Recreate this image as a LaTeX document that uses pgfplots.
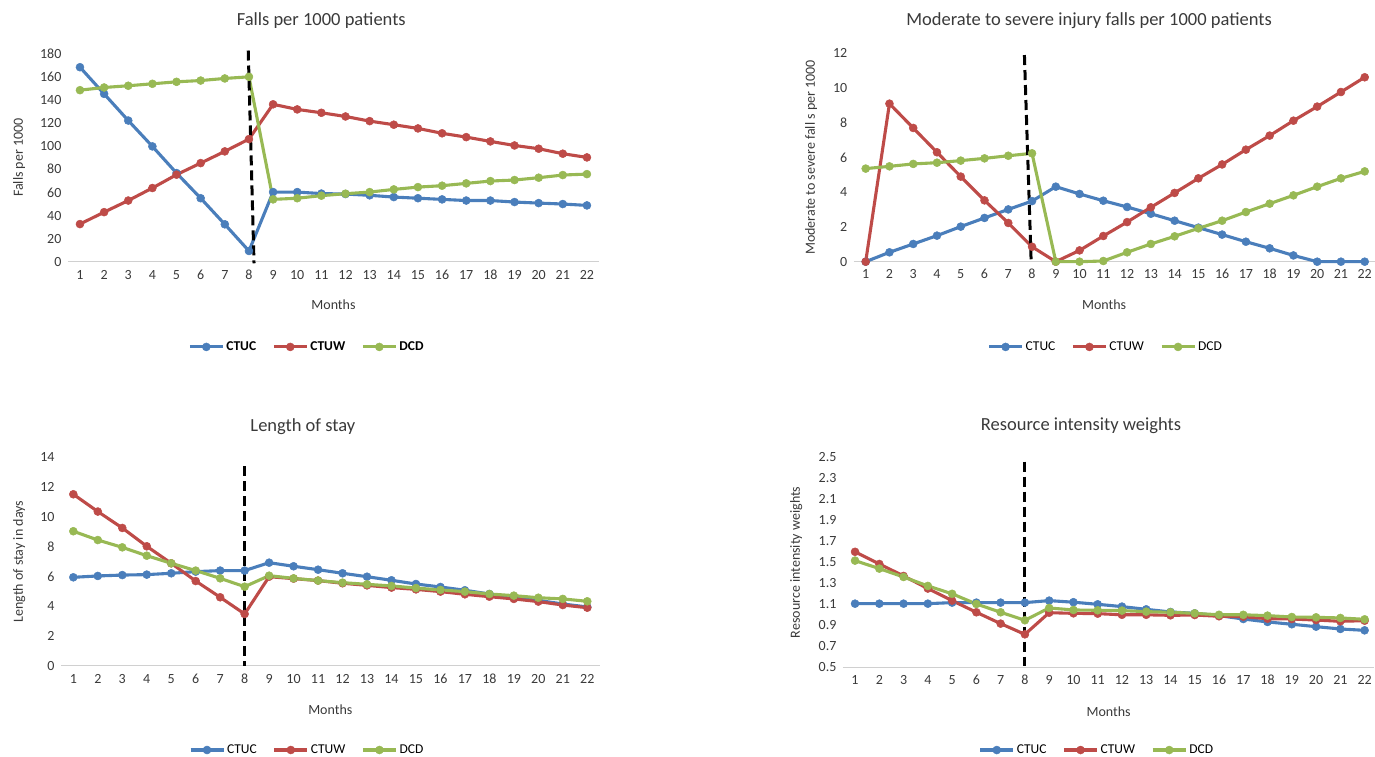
\documentclass[border=0pt]{standalone}
\usepackage{fontspec}
\setmainfont{Carlito}
\usepackage{pgfplots}
\pgfplotsset{compat=1.18}
\definecolor{cblue}{HTML}{4A7EBB}
\definecolor{cred}{HTML}{BE4B48}
\definecolor{cgreen}{HTML}{98B954}
\definecolor{axgray}{HTML}{D0D0D0}
\definecolor{txt}{HTML}{3A3A3A}
\pgfplotsset{
  panel/.style={
    scale only axis, clip=false,
    axis lines*=left,
    x axis line style={axgray, line width=1pt},
    y axis line style={draw=none},
    major tick length=0pt,
    xtick={1,...,22},
    tick label style={font=\fontsize{14}{14}\selectfont, text=txt},
    /pgf/number format/assume math mode=true,
    xticklabel style={yshift=-4pt, text height=9.5pt, text depth=0pt},
    yticklabel style={xshift=-3pt},
    title style={font=\fontsize{18.5}{19}\selectfont, text=txt, anchor=center},
    xlabel style={font=\fontsize{14}{14}\selectfont, text=txt, anchor=center},
    ylabel style={font=\fontsize{14}{14}\selectfont, text=txt, anchor=center},
    xlabel={Months},
    legend columns=3,
    legend style={draw=none, fill=none, font=\fontsize{13.5}{14}\selectfont,
      /tikz/every even column/.append style={column sep=14pt}},
    legend image code/.code={\draw[##1, mark repeat=2, mark phase=2] plot coordinates {(0cm,0cm) (0.58cm,0cm) (1.16cm,0cm)};},
    every axis plot/.append style={line width=3.1pt, mark=*, mark size=4pt},
  },
  sA/.style={color=cblue, mark options={fill=cblue, draw=cblue, line width=0.5pt}},
  sB/.style={color=cred, mark options={fill=cred, draw=cred, line width=0.5pt}},
  sC/.style={color=cgreen, mark options={fill=cgreen, draw=cgreen, line width=0.5pt}},
  vdash/.style={black, line width=3pt, dash pattern=on 10pt off 5pt, mark=none, forget plot},
}
\begin{document}
\begin{tikzpicture}[x=1pt,y=1pt]
\useasboundingbox (0,0) rectangle (1375,757);
% Panel 1
\begin{axis}[panel, at={(67.9pt,495pt)}, anchor=south west,
  width=531.1pt, height=208.7pt,
  xmin=0.5, xmax=22.5, ymin=0, ymax=180, ytick={0,20,...,180},
  title={Falls per 1000 patients}, title style={at={(axis description cs:0.477,1.129)}},
  xlabel style={at={(axis description cs:0.5,-0.206)}},
  ylabel={Falls per 1000}, ylabel style={at={(axis description cs:-0.092,0.5)}},
  legend style={at={(axis description cs:0.45,-0.407)}, anchor=center, font=\fontsize{13.5}{14}\selectfont\bfseries}]
\addplot[sA] coordinates {(1,168) (2,145) (3,122) (4,99.7) (5,76.7) (6,55) (7,32.5) (8,9.5) (9,60.3) (10,60.3) (11,59) (12,58.6) (13,57.5) (14,56) (15,55) (16,54) (17,53) (18,53) (19,51.7) (20,50.8) (21,50) (22,48.8)};
\addplot[sB] coordinates {(1,32.7) (2,43) (3,53) (4,63.8) (5,75.3) (6,85.3) (7,95.4) (8,106) (9,136) (10,131.6) (11,128.7) (12,125.5) (13,121.5) (14,118.4) (15,115.2) (16,111) (17,107.7) (18,104) (19,100.5) (20,97.7) (21,93.4) (22,90.2)};
\addplot[sC] coordinates {(1,148.2) (2,150.5) (3,152) (4,153.7) (5,155.4) (6,156.5) (7,158.3) (8,159.7) (9,54) (10,55) (11,57.2) (12,58.9) (13,60.3) (14,62.6) (15,64.6) (16,65.8) (17,67.8) (18,69.8) (19,70.7) (20,72.7) (21,75) (22,75.8)};
\addplot[vdash] coordinates {(7.97,182.4) (8.21,-1.1)};
\legend{CTUC,CTUW,DCD}
\end{axis}
% Panel 2
\begin{axis}[panel, at={(853.8pt,495.3pt)}, anchor=south west,
  width=521.6pt, height=208.4pt,
  xmin=0.5, xmax=22.45, ymin=0, ymax=12, ytick={0,2,...,12},
  title={Moderate to severe injury falls per 1000 patients}, title style={at={(axis description cs:0.451,1.129)}},
  xlabel style={at={(axis description cs:0.48,-0.206)}},
  ylabel={Moderate to severe fall s per 1000}, ylabel style={at={(axis description cs:-0.082,0.5)}},
  legend style={at={(axis description cs:0.483,-0.409)}, anchor=center}]
\addplot[sA] coordinates {(1,0) (2,0.54) (3,1.02) (4,1.5) (5,2.02) (6,2.52) (7,3.01) (8,3.49) (9,4.32) (10,3.9) (11,3.51) (12,3.15) (13,2.76) (14,2.36) (15,1.96) (16,1.56) (17,1.15) (18,0.77) (19,0.36) (20,0) (21,0) (22,0)};
\addplot[sB] coordinates {(1,0) (2,9.1) (3,7.7) (4,6.3) (5,4.9) (6,3.53) (7,2.23) (8,0.86) (9,0) (10,0.65) (11,1.48) (12,2.28) (13,3.13) (14,3.96) (15,4.8) (16,5.6) (17,6.45) (18,7.26) (19,8.12) (20,8.93) (21,9.77) (22,10.62)};
\addplot[sC] coordinates {(1,5.36) (2,5.49) (3,5.63) (4,5.7) (5,5.82) (6,5.95) (7,6.1) (8,6.24) (9,0) (10,0) (11,0.04) (12,0.54) (13,1.02) (14,1.46) (15,1.92) (16,2.36) (17,2.86) (18,3.34) (19,3.82) (20,4.32) (21,4.8) (22,5.2)};
\addplot[vdash] coordinates {(7.68,11.9) (7.96,0.14)};
\legend{CTUC,CTUW,DCD}
\end{axis}
% Panel 3
\begin{axis}[panel, at={(61.1pt,91pt)}, anchor=south west,
  width=538.4pt, height=208.7pt,
  xmin=0.5, xmax=22.5, ymin=0, ymax=14, ytick={0,2,...,14},
  title={Length of stay}, title style={at={(axis description cs:0.449,1.12)}},
  xlabel style={at={(axis description cs:0.5,-0.21)}},
  ylabel={Length of stay in days}, ylabel style={at={(axis description cs:-0.078,0.5)}},
  legend style={at={(axis description cs:0.457,-0.4025)}, anchor=center}]
\addplot[sA] coordinates {(1,5.95) (2,6.04) (3,6.1) (4,6.13) (5,6.22) (6,6.33) (7,6.4) (8,6.4) (9,6.93) (10,6.69) (11,6.46) (12,6.22) (13,5.99) (14,5.75) (15,5.5) (16,5.3) (17,5.08) (18,4.83) (19,4.63) (20,4.4) (21,4.16) (22,3.96)};
\addplot[sB] coordinates {(1,11.52) (2,10.36) (3,9.26) (4,8.03) (5,6.89) (6,5.7) (7,4.61) (8,3.49) (9,5.99) (10,5.86) (11,5.73) (12,5.55) (13,5.41) (14,5.26) (15,5.14) (16,4.99) (17,4.81) (18,4.65) (19,4.5) (20,4.32) (21,4.09) (22,3.91)};
\addplot[sC] coordinates {(1,9.04) (2,8.45) (3,7.96) (4,7.4) (5,6.89) (6,6.4) (7,5.88) (8,5.32) (9,6.06) (10,5.88) (11,5.73) (12,5.59) (13,5.48) (14,5.37) (15,5.23) (16,5.1) (17,4.99) (18,4.83) (19,4.72) (20,4.58) (21,4.5) (22,4.34)};
\addplot[vdash] coordinates {(8,13.4) (8,0)};
\legend{CTUC,CTUW,DCD}
\end{axis}
% Panel 4
\begin{axis}[panel, at={(842.9pt,89.7pt)}, anchor=south west,
  width=531.4pt, height=210pt,
  xmin=0.5, xmax=22.4, ymin=0.5, ymax=2.5, ytick={0.5,0.7,...,2.5},
  yticklabel style={/pgf/number format/.cd, fixed, fixed zerofill, precision=1},
  title={Resource intensity weights}, title style={at={(axis description cs:0.448,1.12)}},
  xlabel style={at={(axis description cs:0.5,-0.21)}},
  ylabel={Resource intensity weights}, ylabel style={at={(axis description cs:-0.088,0.5)}},
  legend style={at={(axis description cs:0.478,-0.394)}, anchor=center}]
\addplot[sA] coordinates {(1,1.106) (2,1.106) (3,1.106) (4,1.106) (5,1.116) (6,1.116) (7,1.116) (8,1.116) (9,1.135) (10,1.12) (11,1.1) (12,1.078) (13,1.052) (14,1.027) (15,1.014) (16,0.992) (17,0.96) (18,0.932) (19,0.91) (20,0.887) (21,0.865) (22,0.852)};
\addplot[sB] coordinates {(1,1.60) (2,1.484) (3,1.37) (4,1.25) (5,1.135) (6,1.024) (7,0.916) (8,0.814) (9,1.02) (10,1.014) (11,1.011) (12,1.0) (13,1.0) (14,0.995) (15,0.998) (16,0.986) (17,0.982) (18,0.963) (19,0.96) (20,0.95) (21,0.938) (22,0.944)};
\addplot[sC] coordinates {(1,1.516) (2,1.44) (3,1.36) (4,1.275) (5,1.2) (6,1.103) (7,1.024) (8,0.948) (9,1.065) (10,1.046) (11,1.043) (12,1.04) (13,1.03) (14,1.024) (15,1.014) (16,1.0) (17,1.0) (18,0.992) (19,0.979) (20,0.976) (21,0.97) (22,0.957)};
\addplot[vdash] coordinates {(8,2.458) (8,0.51)};
\legend{CTUC,CTUW,DCD}
\end{axis}
\end{tikzpicture}
\end{document}
